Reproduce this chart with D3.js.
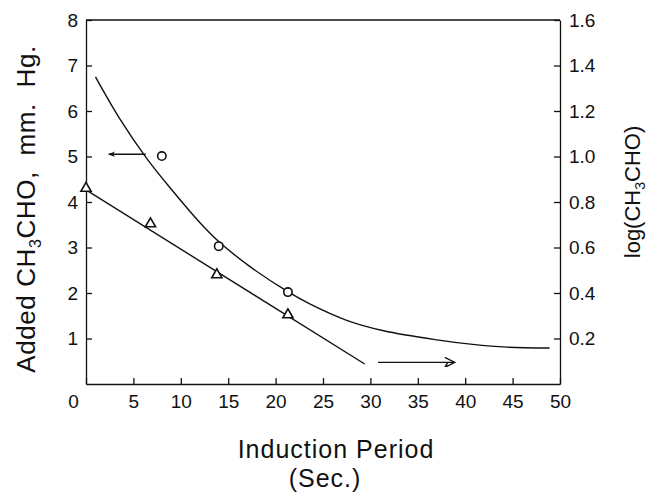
<!DOCTYPE html>
<html>
<head>
<meta charset="utf-8">
<script src="https://cdn.jsdelivr.net/npm/d3@7"></script>
<style>
  body { margin: 0; background: #fff; }
  svg text { font-family: "Liberation Sans", Arial, sans-serif; fill: #111; }
  .axis path, .axis line { stroke: #111; stroke-width: 1.3; }
</style>
</head>
<body>
<svg id="canvas"></svg>
<script>
// upper curve (left axis, mm Hg) - open circles + smooth line
let circleX = [8.0, 14.0, 21.3]
let circleY = [5.01, 3.03, 2.02]
let curveX = [1.0, 3.5, 6.4, 9.0, 12.0, 14.0, 17.3, 21.2, 23.6, 27.5, 31.4, 37.0, 40.8, 44.4, 48.9]
let curveY = [6.75, 5.85, 4.96, 4.28, 3.55, 3.13, 2.58, 2.04, 1.76, 1.40, 1.17, 0.97, 0.87, 0.81, 0.79]

// lower line (right axis, log CH3CHO) - open triangles + straight fit
let triX = [0, 6.8, 13.8, 21.3]
let triY = [0.86, 0.704, 0.48, 0.304]
let fitX = [0, 29.4]
let fitY = [0.853, 0.088]

// arrows telling which axis each curve belongs to
let leftArrowX = [6.3, 2.4]
let leftArrowY = 5.05
let rightArrowX = [30.8, 38.8]
let rightArrowY = 0.095

let xTicks = [0, 5, 10, 15, 20, 25, 30, 35, 40, 45, 50]
let leftTicks = [1, 2, 3, 4, 5, 6, 7, 8]
let rightTicks = [0.2, 0.4, 0.6, 0.8, 1.0, 1.2, 1.4, 1.6]

const width = 664
const height = 495

let svg = d3.select('#canvas')
    .attr('width', width)
    .attr('height', height)

let xScale = d3.scaleLinear().domain([0, 50]).range([86, 560])
let yLeft = d3.scaleLinear().domain([0, 8]).range([384, 20])
let yRight = d3.scaleLinear().domain([0, 1.6]).range([384, 20])

// markers for arrow heads
let defs = svg.append('defs')
defs.append('marker')
    .attr('id', 'headLeft')
    .attr('viewBox', '0 0 10 10')
    .attr('refX', 9).attr('refY', 5)
    .attr('markerWidth', 9).attr('markerHeight', 7)
    .attr('markerUnits', 'userSpaceOnUse')
    .attr('orient', 'auto')
    .append('path')
    .attr('d', 'M0,1 L10,5 L0,9 L3,5 Z')
    .attr('fill', '#111')
defs.append('marker')
    .attr('id', 'headRight')
    .attr('viewBox', '0 0 10 10')
    .attr('refX', 9).attr('refY', 5)
    .attr('markerWidth', 12).attr('markerHeight', 10)
    .attr('markerUnits', 'userSpaceOnUse')
    .attr('orient', 'auto')
    .append('path')
    .attr('d', 'M0,0 L10,5 L0,10 L3,5')
    .attr('fill', 'none')
    .attr('stroke', '#111')
    .attr('stroke-width', 1.4)

// axes (ticks point inward)
let xAxis = d3.axisBottom(xScale).tickValues(xTicks).tickSize(-6).tickSizeOuter(0).tickPadding(11)
let leftAxis = d3.axisLeft(yLeft).tickValues(leftTicks).tickSize(-6).tickSizeOuter(0).tickPadding(8)
let rightAxis = d3.axisRight(yRight).tickValues(rightTicks).tickSize(-6).tickSizeOuter(0).tickPadding(9)
    .tickFormat(d3.format('.1f'))

let gx = svg.append('g')
    .attr('class', 'axis')
    .attr('transform', 'translate(0,' + yLeft(0) + ')')
    .call(xAxis)
gx.selectAll('text').style('font-size', '19px')
gx.selectAll('.tick text').filter(d => d === 0).attr('dx', -13)

let gl = svg.append('g')
    .attr('class', 'axis')
    .attr('transform', 'translate(' + xScale(0) + ',0)')
    .call(leftAxis)
gl.selectAll('text').style('font-size', '19px')

let gr = svg.append('g')
    .attr('class', 'axis')
    .attr('transform', 'translate(' + xScale(50) + ',0)')
    .call(rightAxis)
gr.selectAll('text').style('font-size', '19px')

// top border
svg.append('line')
    .attr('x1', xScale(0)).attr('x2', xScale(50))
    .attr('y1', yLeft(8)).attr('y2', yLeft(8))
    .attr('stroke', '#111').attr('stroke-width', 1.3)

// upper curve
let curveData = curveX.map((x, i) => [x, curveY[i]])
let curveLine = d3.line()
    .x(d => xScale(d[0]))
    .y(d => yLeft(d[1]))
    .curve(d3.curveCatmullRom)
svg.append('path')
    .datum(curveData)
    .attr('d', curveLine)
    .attr('fill', 'none')
    .attr('stroke', '#111')
    .attr('stroke-width', 1.4)

svg.selectAll('.circ')
    .data(circleX.map((x, i) => [x, circleY[i]]))
    .enter()
    .append('circle')
    .attr('class', 'circ')
    .attr('cx', d => xScale(d[0]))
    .attr('cy', d => yLeft(d[1]))
    .attr('r', 4.2)
    .attr('fill', '#fff')
    .attr('stroke', '#111')
    .attr('stroke-width', 1.6)

// lower straight line
let fitLine = d3.line()
    .x(d => xScale(d[0]))
    .y(d => yRight(d[1]))
svg.append('path')
    .datum(fitX.map((x, i) => [x, fitY[i]]))
    .attr('d', fitLine)
    .attr('fill', 'none')
    .attr('stroke', '#111')
    .attr('stroke-width', 1.4)

let tri = d3.symbol().type(d3.symbolTriangle).size(45)
svg.selectAll('.tri')
    .data(triX.map((x, i) => [x, triY[i]]))
    .enter()
    .append('path')
    .attr('class', 'tri')
    .attr('d', tri)
    .attr('transform', d => 'translate(' + xScale(d[0]) + ',' + yRight(d[1]) + ')')
    .attr('fill', '#fff')
    .attr('stroke', '#111')
    .attr('stroke-width', 1.6)

// arrows
svg.append('line')
    .attr('x1', xScale(leftArrowX[0])).attr('x2', xScale(leftArrowX[1]))
    .attr('y1', yLeft(leftArrowY)).attr('y2', yLeft(leftArrowY))
    .attr('stroke', '#111').attr('stroke-width', 1.3)
    .attr('marker-end', 'url(#headLeft)')
svg.append('line')
    .attr('x1', xScale(rightArrowX[0])).attr('x2', xScale(rightArrowX[1]))
    .attr('y1', yRight(rightArrowY)).attr('y2', yRight(rightArrowY))
    .attr('stroke', '#111').attr('stroke-width', 1.3)
    .attr('marker-end', 'url(#headRight)')

// axis titles
let leftTitle = svg.append('text')
    .attr('transform', 'translate(35,209) rotate(-90)')
    .attr('text-anchor', 'middle')
    .style('font-size', '26px')
    .style('letter-spacing', '0.6px')
    .style('white-space', 'pre')
leftTitle.append('tspan').text('Added CH')
leftTitle.append('tspan').text('3').attr('dy', 6).style('font-size', '16px')
leftTitle.append('tspan').text('CHO,  mm.  Hg.').attr('dy', -6)

let rightTitle = svg.append('text')
    .attr('transform', 'translate(640,192) rotate(-90)')
    .attr('text-anchor', 'middle')
    .style('font-size', '22px')
rightTitle.append('tspan').text('log(CH')
rightTitle.append('tspan').text('3').attr('dy', 5).style('font-size', '14px')
rightTitle.append('tspan').text('CHO)').attr('dy', -5)

svg.append('text')
    .attr('x', 336).attr('y', 458)
    .attr('text-anchor', 'middle')
    .style('font-size', '25px')
    .style('letter-spacing', '1px')
    .text('Induction Period')
svg.append('text')
    .attr('x', 325).attr('y', 487)
    .attr('text-anchor', 'middle')
    .style('font-size', '25px')
    .style('letter-spacing', '1px')
    .text('(Sec.)')
</script>
</body>
</html>
